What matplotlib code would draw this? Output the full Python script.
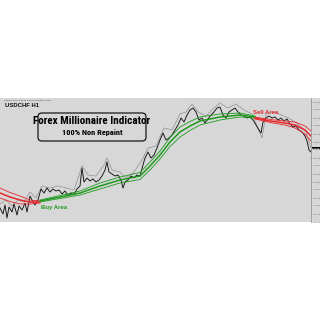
import matplotlib
matplotlib.use("Agg")
import matplotlib.pyplot as plt
from matplotlib.patches import FancyBboxPatch, Rectangle
from matplotlib import font_manager

# ---- data ----
price_x = [0, 3, 5, 7, 9, 12, 14, 17, 19, 22, 25, 27, 30, 32, 35, 38, 41, 44, 47, 50,
           53, 56, 59, 62, 65, 68, 71, 74, 77, 80, 82, 84, 87, 90, 93, 96, 99, 102, 105, 107,
           109, 112, 115, 118, 121, 123, 125, 128, 131, 134, 137, 140, 143, 145, 148, 151, 154, 157, 160, 163,
           166, 169, 172, 175, 178, 181, 184, 187, 190, 193, 196, 199, 202, 205, 208, 211, 214, 217, 220, 223,
           226, 229, 232, 235, 238, 241, 244, 247, 250, 253, 256, 259, 261, 263, 266, 269, 272, 275, 278, 281,
           284, 287, 290, 293, 296, 299, 302, 305, 307, 309, 311]
price_close = [0.9428, 0.9416, 0.9434, 0.9408, 0.9430, 0.9420, 0.9436, 0.9414, 0.9432, 0.9424,
               0.9438, 0.9420, 0.9452, 0.9444, 0.9434, 0.9444, 0.9466, 0.9458, 0.9468, 0.9460,
               0.9466, 0.9462, 0.9464, 0.9456, 0.9462, 0.9452, 0.9458, 0.9454, 0.9466, 0.9472,
               0.9508, 0.9480, 0.9488, 0.9482, 0.9486, 0.9480, 0.9484, 0.9492, 0.9504, 0.9520,
               0.9500, 0.9496, 0.9492, 0.9494, 0.9484, 0.9468, 0.9480, 0.9484, 0.9492, 0.9488,
               0.9494, 0.9492, 0.9514, 0.9528, 0.9540, 0.9528, 0.9534, 0.9548, 0.9564, 0.9578,
               0.9564, 0.9568, 0.9574, 0.9584, 0.9594, 0.9608, 0.9600, 0.9614, 0.9624, 0.9628,
               0.9620, 0.9604, 0.9608, 0.9598, 0.9606, 0.9614, 0.9620, 0.9628, 0.9630, 0.9614,
               0.9608, 0.9620, 0.9624, 0.9628, 0.9620, 0.9614, 0.9612, 0.9608, 0.9610, 0.9604,
               0.9594, 0.9584, 0.9578, 0.9600, 0.9608, 0.9612, 0.9608, 0.9610, 0.9604, 0.9608,
               0.9602, 0.9606, 0.9596, 0.9590, 0.9592, 0.9584, 0.9580, 0.9572, 0.9562, 0.9544,
               0.9540]

high_x = [0, 6, 12, 18, 24, 30, 36, 42, 50, 58, 66, 74, 82, 88, 96, 104, 107, 112, 120, 126,
          134, 142, 148, 156, 164, 172, 180, 186, 192, 198, 206, 214, 220, 228, 236, 244, 252, 258, 262, 266,
          274, 284, 292, 300, 306, 311]
high_vals = [0.9436, 0.9444, 0.9432, 0.9444, 0.9440, 0.9460, 0.9448, 0.9472, 0.9468, 0.9472,
             0.9468, 0.9464, 0.9512, 0.9494, 0.9492, 0.9514, 0.9528, 0.9504, 0.9500, 0.9488,
             0.9500, 0.9524, 0.9548, 0.9552, 0.9588, 0.9584, 0.9616, 0.9620, 0.9636, 0.9620,
             0.9612, 0.9628, 0.9638, 0.9628, 0.9636, 0.9624, 0.9616, 0.9588, 0.9568, 0.9616,
             0.9620, 0.9612, 0.9604, 0.9592, 0.9580, 0.9548]

sell1_x = [0, 10, 20, 30, 40]
sell1_mid = [0.9458, 0.9450, 0.9444, 0.9440, 0.9440]
sell1_band = [0.0010, 0.0009, 0.0008, 0.0004, 0.0002]

buy_x = [40, 60, 80, 100, 120, 140, 150, 160, 170, 180, 190, 200, 220, 240, 255]
buy_mid = [0.9442, 0.9450, 0.9458, 0.9472, 0.9484, 0.9492, 0.9512, 0.9534, 0.9560, 0.9580,
           0.9592, 0.9602, 0.9610, 0.9614, 0.9610]
buy_band = [0.0002, 0.0003, 0.0004, 0.0006, 0.0006, 0.0007, 0.0008, 0.0008, 0.0009, 0.0010,
            0.0009, 0.0008, 0.0006, 0.0004, 0.0002]

sell2_x = [255, 270, 285, 295, 305, 311]
sell2_mid = [0.9608, 0.9602, 0.9598, 0.9594, 0.9584, 0.9572]
sell2_band = [0.0002, 0.0003, 0.0004, 0.0006, 0.0008, 0.0010]

yticks = [0.9400, 0.9416, 0.9432, 0.9448, 0.9464, 0.9480, 0.9496, 0.9512, 0.9528,
          0.9544, 0.9560, 0.9576, 0.9592, 0.9608, 0.9624, 0.9640]
last_price = 0.9548

# ---- styling ----
BG = "#d7d7d7"
RED = "#e8262b"
GREEN = "#1e9a1e"

W = H = 320
fig = plt.figure(figsize=(3.2, 3.2), dpi=100)
fig.patch.set_facecolor("white")

def fx(px):
    return px / W

def fy(py):
    return 1 - py / H

# background axes for the gray panel incl. price scale strip
bg = fig.add_axes([0, fy(222), 1, (222 - 98) / H], zorder=-5)
bg.set_facecolor(BG)
bg.set_axis_off()
bg.add_patch(Rectangle((0, 0), 1, 1, transform=bg.transAxes, facecolor=BG, edgecolor="none"))

ax = fig.add_axes([0, fy(222), fx(311), (222 - 98) / H], zorder=1)
ax.set_facecolor(BG)
ax.set_xlim(0, 311)
ax.set_ylim(0.9400, 0.9648)
for s in ["top", "left", "bottom"]:
    ax.spines[s].set_visible(False)
ax.spines["right"].set_linewidth(0.4)
ax.spines["right"].set_color("#777777")
ax.set_xticks([])
ax.yaxis.tick_right()
ax.set_yticks(yticks)
ax.set_yticklabels([f"{v:.4f}" for v in yticks], fontsize=1.7, color="#555555")
ax.tick_params(axis="y", length=0.8, width=0.3, pad=0.5, colors="#666666")

# price
ax.plot(high_x, high_vals, color="#9c9c9c", lw=0.6, zorder=2)
ax.plot(price_x, price_close, color="#111111", lw=0.65, zorder=3)

def band(xs, mid, spread, color):
    up = [m + s for m, s in zip(mid, spread)]
    lo = [m - s for m, s in zip(mid, spread)]
    ax.plot(xs, up, color=color, lw=0.6, zorder=4)
    ax.plot(xs, lo, color=color, lw=0.6, zorder=4)
    ax.plot(xs, mid, color=color, lw=1.1, zorder=5)

band(sell1_x, sell1_mid, sell1_band, RED)
band(buy_x, buy_mid, buy_band, GREEN)
band(sell2_x, sell2_mid, sell2_band, RED)

# last price marker on scale
ax.annotate(f"{last_price:.4f}", xy=(1.0, last_price), xycoords=("axes fraction", "data"),
            xytext=(0.8, 0), textcoords="offset points", fontsize=1.7, color="white",
            va="center", ha="left",
            bbox=dict(boxstyle="square,pad=0.15", fc="black", ec="none"))

# choose a condensed bold font if available
names = {f.name for f in font_manager.fontManager.ttflist}
cond = None
for cand in ["Liberation Sans Narrow", "DejaVu Sans Condensed", "Roboto Condensed",
             "Open Sans Condensed"]:
    if cand in names:
        cond = cand
        break
title_kw = dict(fontweight="bold", color="black", ha="center", va="center")
if cond:
    title_kw["family"] = cond
    tsize, ssize = 8, 6
else:
    title_kw["family"] = "DejaVu Sans"
    title_kw["fontstretch"] = "condensed"
    tsize, ssize = 6.3, 5

sans = "Liberation Sans" if "Liberation Sans" in names else "DejaVu Sans"

# labels
fig.text(fx(4), fy(100), "USDCHF,H1  0.9549 0.9552 0.9538 0.9548", fontsize=1.7,
         family=sans, color="#333333", va="center", ha="left")
fig.text(fx(5), fy(105.5), "USDCHF H1", fontsize=4.3, fontweight="bold", family=sans,
         color="#111111", va="center", ha="left")

box = FancyBboxPatch((fx(38), fy(141)), fx(108), (141 - 113) / H,
                     boxstyle="round,pad=0,rounding_size=0.012",
                     transform=fig.transFigure, facecolor="none",
                     edgecolor="black", lw=0.8, zorder=6)
fig.patches.append(box)
fig.text(fx(92), fy(121), "Forex Millionaire Indicator", fontsize=tsize, **title_kw)
fig.text(fx(92), fy(133), "100% Non Repaint", fontsize=ssize, **title_kw)

fig.text(fx(253), fy(113), "Sell Area", fontsize=4.3, fontweight="bold", family=sans,
         color=RED, ha="left", va="center")
fig.text(fx(41), fy(207), "Buy Area", fontsize=4.3, fontweight="bold", family=sans,
         color=GREEN, ha="left", va="center")

fig.savefig("out.png", dpi=100)
